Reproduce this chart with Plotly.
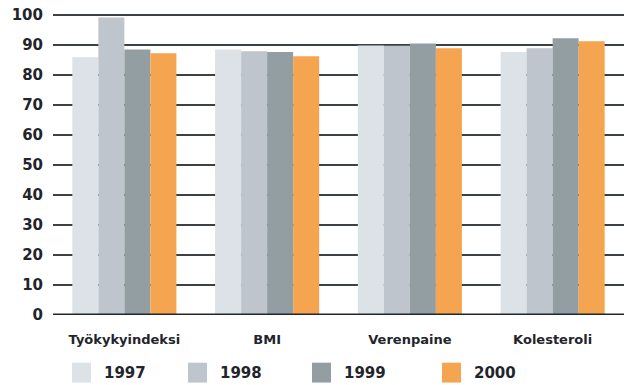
import plotly.graph_objects as go

categories = ["Työkykyindeksi", "BMI", "Verenpaine", "Kolesteroli"]
years = ["1997", "1998", "1999", "2000"]
values = {
    "1997": [86.0, 88.6, 89.9, 87.7],
    "1998": [99.2, 88.0, 89.8, 89.0],
    "1999": [88.6, 87.7, 90.6, 92.3],
    "2000": [87.3, 86.3, 89.0, 91.3],
}
y_ticks = list(range(0, 101, 10))

colors = {"1997": "#dde2e6", "1998": "#bec5cd", "1999": "#939ea3", "2000": "#f5a54f"}
text_color = "#1f252b"
font_family = "DejaVu Sans"

W, H = 630, 385
L, R, T, B = 53, 6, 12, 70
plot_w = W - L - R
plot_h = H - T - B

fig = go.Figure()
for yr in years:
    fig.add_trace(go.Bar(
        x=categories, y=values[yr], name=yr,
        marker=dict(color=colors[yr], line=dict(width=0)),
        showlegend=False,
    ))

# custom legend: big square swatches with bold year labels
legend_x_px = [72, 188, 312, 442]
sw = 19
sw_top, sw_bot = 363, 383
for yr, px in zip(years, legend_x_px):
    x0 = (px - L) / plot_w
    x1 = (px + sw - L) / plot_w
    y0 = (H - B - sw_bot) / plot_h
    y1 = (H - B - sw_top) / plot_h
    fig.add_shape(type="rect", xref="paper", yref="paper",
                  x0=x0, x1=x1, y0=y0, y1=y1,
                  fillcolor=colors[yr], line=dict(width=0))
    fig.add_annotation(xref="paper", yref="paper",
                       x=(px + sw + 11 - L) / plot_w, y=(y0 + y1) / 2,
                       text=yr, showarrow=False, xanchor="left", yanchor="middle",
                       font=dict(family=font_family, size=15, color=text_color, weight="bold"))

# heavy baseline at zero
fig.add_shape(type="line", xref="paper", yref="y", x0=0, x1=1, y0=0, y1=0,
              line=dict(color="#22272b", width=3), layer="above")

fig.update_layout(
    width=W, height=H,
    margin=dict(l=L, r=R, t=T, b=B),
    paper_bgcolor="white", plot_bgcolor="white",
    barmode="group", bargap=0.271, bargroupgap=0,
    font=dict(family=font_family, color=text_color),
    xaxis=dict(
        showgrid=False, showline=False, ticks="", zeroline=False,
        tickfont=dict(family=font_family, size=13, color=text_color, weight="bold"),
        ticklabelstandoff=15,
    ),
    yaxis=dict(
        range=[0, 100.4], tickvals=y_ticks, ticktext=[str(v) for v in y_ticks],
        showgrid=True, gridcolor="#3c4145", gridwidth=1.5,
        zeroline=False, showline=False, ticks="",
        tickfont=dict(family=font_family, size=15, color=text_color, weight="bold"),
        ticklabelstandoff=9,
    ),
)

fig.write_html("out.html")
